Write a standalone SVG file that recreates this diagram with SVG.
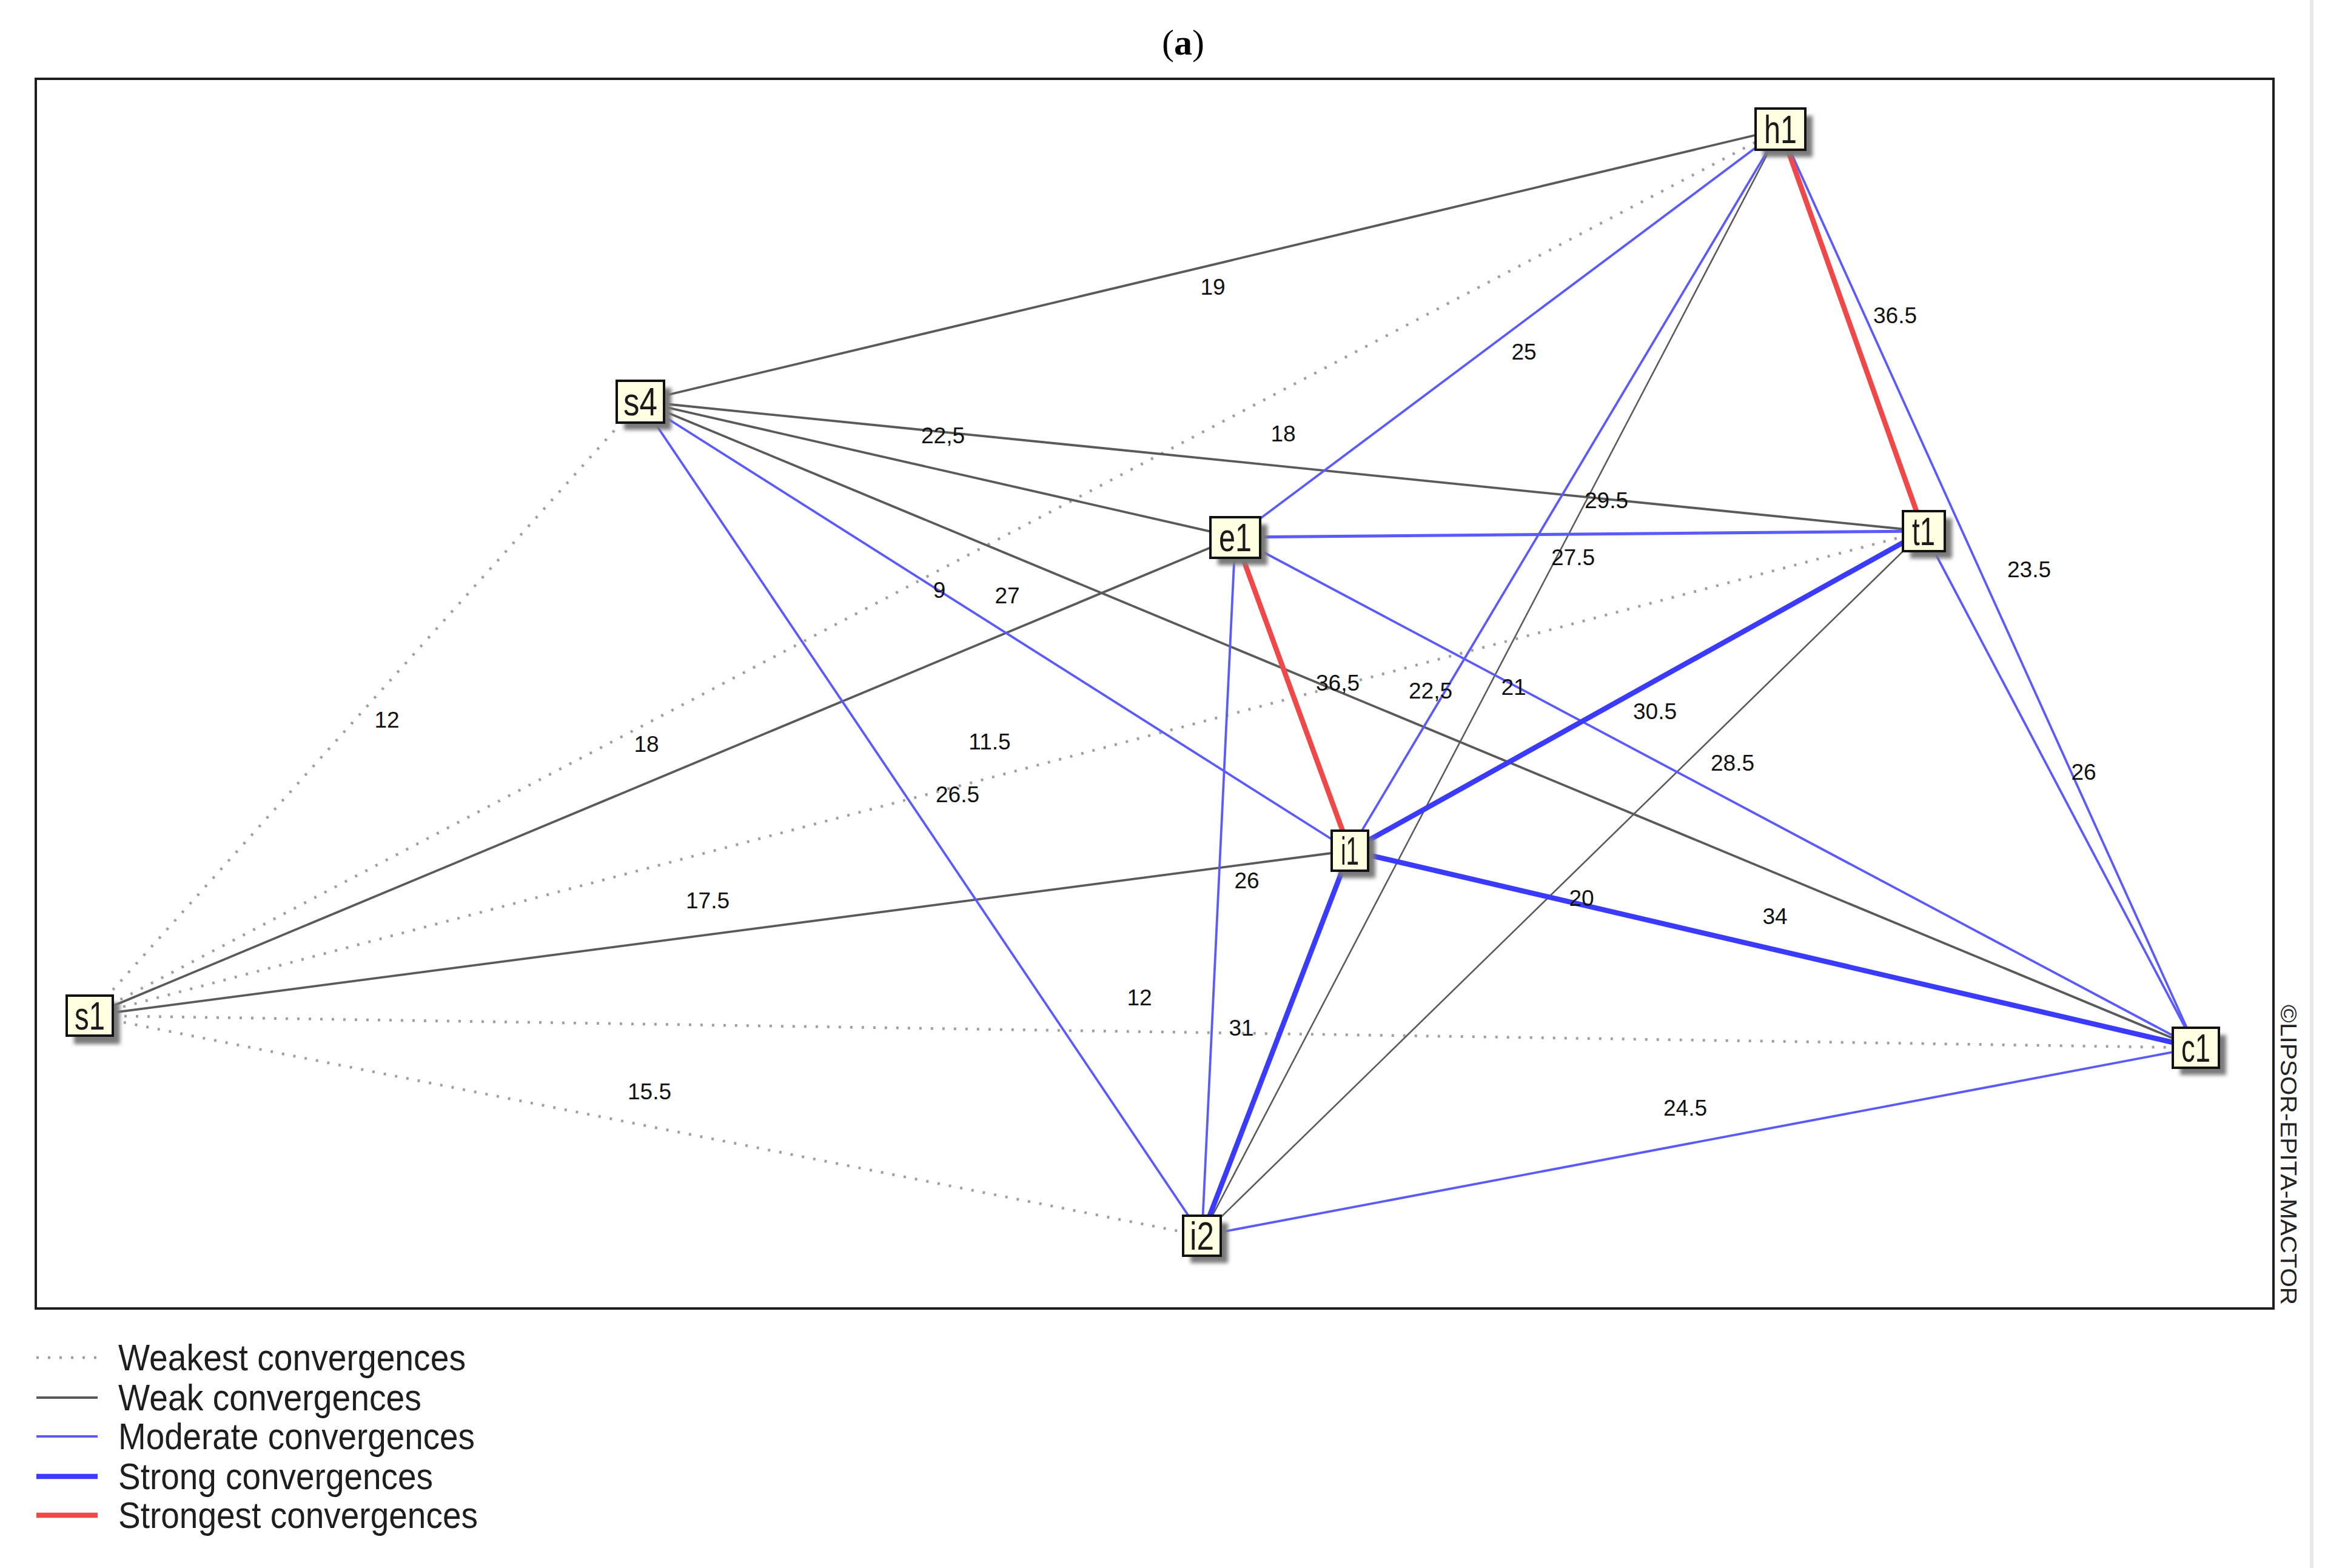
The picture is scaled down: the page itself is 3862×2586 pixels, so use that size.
<svg xmlns="http://www.w3.org/2000/svg" width="3862" height="2586" viewBox="0 0 3862 2586">
<defs>
<filter id="blur" x="-20%" y="-20%" width="140%" height="140%"><feGaussianBlur stdDeviation="3"/></filter>
</defs>
<style>
.weakest{stroke:#a0a0a0;stroke-width:4.5;stroke-dasharray:4 15;fill:none}
.weak{stroke:#5a5a5a;stroke-width:3.8;fill:none}
.thin{stroke-width:2.6}
.moderate{stroke:#5a5aff;stroke-width:3.8;fill:none}
.strong{stroke:#3b3bff;stroke-width:8.5;fill:none}
.strongest{stroke:#f04848;stroke-width:8.5;fill:none}
.lbl{font-family:"Liberation Sans",Arial,sans-serif;font-size:37px;fill:#111;text-anchor:middle}
.box{fill:#ffffe2;stroke:#111;stroke-width:4}
.shadow{fill:#7a7a7a;filter:url(#blur)}
.ntxt{font-family:"Liberation Sans",Arial,sans-serif;font-size:64px;fill:#1a1a1a;text-anchor:middle}
.leg{font-family:"Liberation Sans",Arial,sans-serif;font-size:62px;fill:#1e1e1e}
</style>
<rect width="3862" height="2586" fill="#ffffff"/>
<line x1="3812" y1="0" x2="3812" y2="2586" stroke="#e8e8e8" stroke-width="6"/>
<text x="1951" y="90" font-family="Liberation Serif,Times New Roman,serif" font-size="60" text-anchor="middle" fill="#000">(<tspan font-weight="bold">a</tspan>)</text>
<rect x="59" y="130" width="3690" height="2028" fill="none" stroke="#1e1e1e" stroke-width="4"/>
<g id="connectors">
<line class="weakest" x1="148" y1="1675" x2="1056" y2="662"/>
<line class="weakest" x1="148" y1="1675" x2="2936" y2="213"/>
<line class="weakest" x1="148" y1="1675" x2="3172" y2="876"/>
<line class="weakest" x1="148" y1="1675" x2="3621" y2="1728"/>
<line class="weakest" x1="148" y1="1675" x2="1982" y2="2038"/>
<line class="weak" x1="1056" y1="662" x2="2936" y2="213"/>
<line class="weak" x1="1056" y1="662" x2="3172" y2="876"/>
<line class="weak" x1="1056" y1="662" x2="2037" y2="886"/>
<line class="weak" x1="1056" y1="662" x2="3621" y2="1728"/>
<line class="weak" x1="148" y1="1675" x2="2037" y2="886"/>
<line class="weak" x1="148" y1="1675" x2="2226" y2="1403"/>
<line class="weak thin" x1="2936" y1="213" x2="1982" y2="2038"/>
<line class="weak thin" x1="3172" y1="876" x2="1982" y2="2038"/>
<line class="moderate" x1="1056" y1="662" x2="2226" y2="1403"/>
<line class="moderate" x1="1056" y1="662" x2="1982" y2="2038"/>
<line class="moderate" x1="2936" y1="213" x2="2037" y2="886"/>
<line class="moderate" x1="2936" y1="213" x2="2226" y2="1403"/>
<line class="moderate" x1="2936" y1="213" x2="3621" y2="1728"/>
<line class="moderate" x1="2037" y1="886" x2="3172" y2="876" style="stroke-width:5"/>
<line class="moderate" x1="2037" y1="886" x2="3621" y2="1728"/>
<line class="moderate" x1="2037" y1="886" x2="1982" y2="2038"/>
<line class="moderate" x1="3172" y1="876" x2="3621" y2="1728"/>
<line class="moderate" x1="3621" y1="1728" x2="1982" y2="2038"/>
<line class="strong" x1="3172" y1="876" x2="2226" y2="1403"/>
<line class="strong" x1="2226" y1="1403" x2="3621" y2="1728"/>
<line class="strong" x1="2226" y1="1403" x2="1982" y2="2038"/>
<line class="strongest" x1="2936" y1="213" x2="3172" y2="876"/>
<line class="strongest" x1="2037" y1="886" x2="2226" y2="1403"/>
</g>
<g id="edge-labels">
<text class="lbl" x="2000" y="486">19</text>
<text class="lbl" x="2513" y="593">25</text>
<text class="lbl" x="3125" y="533">36.5</text>
<text class="lbl" x="1555" y="731">22,5</text>
<text class="lbl" x="2116" y="728">18</text>
<text class="lbl" x="2649" y="838">29.5</text>
<text class="lbl" x="3346" y="952">23.5</text>
<text class="lbl" x="2594" y="932">27.5</text>
<text class="lbl" x="638" y="1200">12</text>
<text class="lbl" x="1549" y="986">9</text>
<text class="lbl" x="1661" y="995">27</text>
<text class="lbl" x="1066" y="1240">18</text>
<text class="lbl" x="2206" y="1139">36,5</text>
<text class="lbl" x="2359" y="1152">22,5</text>
<text class="lbl" x="2496" y="1146">21</text>
<text class="lbl" x="2729" y="1186">30.5</text>
<text class="lbl" x="1632" y="1236">11.5</text>
<text class="lbl" x="2857" y="1271">28.5</text>
<text class="lbl" x="1579" y="1323">26.5</text>
<text class="lbl" x="3436" y="1286">26</text>
<text class="lbl" x="1167" y="1498">17.5</text>
<text class="lbl" x="2056" y="1465">26</text>
<text class="lbl" x="2608" y="1494">20</text>
<text class="lbl" x="2927" y="1524">34</text>
<text class="lbl" x="1879" y="1658">12</text>
<text class="lbl" x="2047" y="1708">31</text>
<text class="lbl" x="1071" y="1813">15.5</text>
<text class="lbl" x="2779" y="1840">24.5</text>
</g>
<g id="node-s1"><rect class="shadow" x="122" y="1654" width="76" height="68"/><rect class="box" x="110" y="1642" width="76" height="66"/><text class="ntxt" x="148" y="1698" textLength="50" lengthAdjust="spacingAndGlyphs">s1</text></g>
<g id="node-s4"><rect class="shadow" x="1029" y="640" width="78" height="69"/><rect class="box" x="1017" y="628" width="78" height="69"/><text class="ntxt" x="1056" y="685" textLength="56" lengthAdjust="spacingAndGlyphs">s4</text></g>
<g id="node-h1"><rect class="shadow" x="2907" y="191" width="82" height="68"/><rect class="box" x="2895" y="179" width="82" height="68"/><text class="ntxt" x="2936" y="236" textLength="54" lengthAdjust="spacingAndGlyphs">h1</text></g>
<g id="node-e1"><rect class="shadow" x="2008" y="865" width="82" height="67"/><rect class="box" x="1996" y="853" width="82" height="67"/><text class="ntxt" x="2037" y="909" textLength="54" lengthAdjust="spacingAndGlyphs">e1</text></g>
<g id="node-t1"><rect class="shadow" x="3150" y="855" width="69" height="66"/><rect class="box" x="3138" y="843" width="69" height="66"/><text class="ntxt" x="3172" y="899" textLength="38" lengthAdjust="spacingAndGlyphs">t1</text></g>
<g id="node-i1"><rect class="shadow" x="2208" y="1382" width="60" height="66"/><rect class="box" x="2196" y="1370" width="60" height="66"/><text class="ntxt" x="2226" y="1426" textLength="30" lengthAdjust="spacingAndGlyphs">i1</text></g>
<g id="node-c1"><rect class="shadow" x="3595" y="1707" width="76" height="66"/><rect class="box" x="3583" y="1695" width="76" height="66"/><text class="ntxt" x="3621" y="1751" textLength="48" lengthAdjust="spacingAndGlyphs">c1</text></g>
<g id="node-i2"><rect class="shadow" x="1963" y="2017" width="62" height="66"/><rect class="box" x="1951" y="2005" width="62" height="66"/><text class="ntxt" x="1982" y="2061" textLength="40" lengthAdjust="spacingAndGlyphs">i2</text></g>
<text transform="translate(3761,1657) rotate(90)" font-family="Liberation Sans,Arial,sans-serif" font-size="37" fill="#222" textLength="495" lengthAdjust="spacingAndGlyphs">©LIPSOR-EPITA-MACTOR</text>
<g id="legend">
<line class="weakest" x1="60" y1="2239" x2="161" y2="2239"/>
<line class="weak" x1="60" y1="2305" x2="161" y2="2305"/>
<line class="moderate" x1="60" y1="2369" x2="161" y2="2369"/>
<line class="strong" x1="60" y1="2435" x2="161" y2="2435"/>
<line class="strongest" x1="60" y1="2499" x2="161" y2="2499"/>
<text class="leg" x="195" y="2260" textLength="573" lengthAdjust="spacingAndGlyphs">Weakest convergences</text>
<text class="leg" x="195" y="2326" textLength="500" lengthAdjust="spacingAndGlyphs">Weak convergences</text>
<text class="leg" x="195" y="2390" textLength="588" lengthAdjust="spacingAndGlyphs">Moderate convergences</text>
<text class="leg" x="195" y="2456" textLength="519" lengthAdjust="spacingAndGlyphs">Strong convergences</text>
<text class="leg" x="195" y="2520" textLength="593" lengthAdjust="spacingAndGlyphs">Strongest convergences</text>
</g>
</svg>
